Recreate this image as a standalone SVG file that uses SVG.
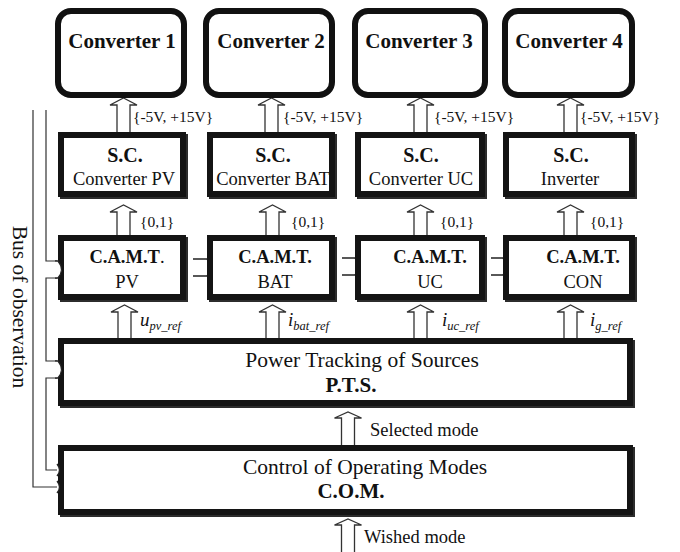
<svg xmlns="http://www.w3.org/2000/svg" width="680" height="552" viewBox="0 0 680 552">
  <style>
    text { font-family: "Liberation Serif", "Times New Roman", Times, serif; fill: #111; }
    .conv { fill: #fff; stroke: #111; stroke-width: 6; }
    .box { fill: #fff; stroke: #141414; stroke-width: 6; }
    .shade { fill: none; stroke: #2c2c2c; stroke-width: 6; }
    .arr { fill: #fff; stroke: #333; stroke-width: 1.3; stroke-linejoin: miter; }
    .wire { fill: none; stroke: #333; stroke-width: 1.2; }
    .plug { fill: #fff; stroke: #222; stroke-width: 1.3; }
    .patch { fill: #fff; stroke: none; }
    .t-conv { font-size: 21px; font-weight: bold; text-anchor: middle; }
    .t-b { font-size: 20px; font-weight: bold; text-anchor: middle; }
    .t-r { font-size: 18.5px; text-anchor: middle; }
    .t-big { font-size: 21.5px; text-anchor: middle; }
    .t-bigb { font-size: 21px; font-weight: bold; text-anchor: middle; }
    .lbl { font-size: 15.5px; }
    .lbl2 { font-size: 18.5px; }
    .sig { font-size: 19px; font-style: italic; }
    .sub { font-size: 12.5px; font-style: italic; }
  </style>

  <!-- connectors: hollow signal arrows, observation bus, inter-block links -->
  <g id="connectors">
    <!-- S.C. to converters -->
    <path class="arr" d="M117 134 V105 H110 L123.5 98 L137 105 H130 V134"/>
    <path class="arr" d="M265 134 V105 H258 L271.5 98 L285 105 H278 V134"/>
    <path class="arr" d="M414 134 V105 H407 L420.5 98 L434 105 H427 V134"/>
    <path class="arr" d="M564 134 V105 H557 L570.5 98 L584 105 H577 V134"/>
    <!-- C.A.M.T. to S.C. -->
    <path class="arr" d="M117 237 V212 H110 L123.5 205 L137 212 H130 V237"/>
    <path class="arr" d="M266 237 V212 H259 L272.5 205 L286 212 H279 V237"/>
    <path class="arr" d="M414 237 V212 H407 L420.5 205 L434 212 H427 V237"/>
    <path class="arr" d="M564 237 V212 H557 L570.5 205 L584 212 H577 V237"/>
    <!-- P.T.S. to C.A.M.T. -->
    <path class="arr" d="M118 340 V312 H111 L124.5 305 L138 312 H131 V340"/>
    <path class="arr" d="M266 340 V312 H259 L272.5 305 L286 312 H279 V340"/>
    <path class="arr" d="M414 340 V312 H407 L420.5 305 L434 312 H427 V340"/>
    <path class="arr" d="M564 340 V312 H557 L570.5 305 L584 312 H577 V340"/>
    <!-- C.O.M. to P.T.S. and input -->
    <path class="arr" d="M341.5 447 V418 H334.5 L348 412 L361.5 418 H354.5 V447"/>
    <path class="arr" d="M341.5 553 V525 H334.5 L348 519 L361.5 525 H354.5 V553"/>

    <!-- observation bus -->
    <path class="wire" d="M57 487 H33 V110"/>
    <path class="wire" d="M57 261 H46 V110"/>
    <path class="wire" d="M57 278 H46 V361 H57"/>
    <path class="wire" d="M57 378 H46 V470 H57"/>

    <!-- links between C.A.M.T. blocks -->
    <rect class="patch" x="185" y="259" width="22" height="17"/>
    <path class="plug" d="M193 259 H207 Q214 267.5 207 276 H193"/>
    <rect class="patch" x="334" y="258" width="21" height="17"/>
    <path class="plug" d="M342 258 H355 Q362 266.5 355 275 H342"/>
    <rect class="patch" x="484" y="258" width="19" height="17"/>
    <path class="plug" d="M491 258 H503 Q510 266.5 503 275 H491"/>

    <!-- labels -->
    <text class="lbl" x="133" y="122">{-5V, +15V}</text>
    <text class="lbl" x="283" y="122">{-5V, +15V}</text>
    <text class="lbl" x="434" y="122">{-5V, +15V}</text>
    <text class="lbl" x="580" y="122">{-5V, +15V}</text>
    <text class="lbl" x="140" y="227">{0,1}</text>
    <text class="lbl" x="291" y="227">{0,1}</text>
    <text class="lbl" x="440" y="227">{0,1}</text>
    <text class="lbl" x="590" y="227">{0,1}</text>
    <text x="140" y="326"><tspan class="sig">u</tspan><tspan class="sub" dy="4">pv_ref</tspan></text>
    <text x="288" y="326"><tspan class="sig">i</tspan><tspan class="sub" dy="4">bat_ref</tspan></text>
    <text x="442" y="326"><tspan class="sig">i</tspan><tspan class="sub" dy="4">uc_ref</tspan></text>
    <text x="590" y="326"><tspan class="sig">i</tspan><tspan class="sub" dy="4">g_ref</tspan></text>
    <text class="lbl2" x="370" y="436">Selected mode</text>
    <text class="lbl2" x="364" y="543">Wished mode</text>
  </g>

  <g id="bus-label">
    <text class="t-big" transform="translate(13,307) rotate(90)">Bus of observation</text>
  </g>

  <!-- power converters -->
  <g id="converter1">
    <rect class="conv" x="58" y="11" width="126" height="84" rx="13"/>
    <text class="t-conv" x="122" y="48">Converter 1</text>
  </g>
  <g id="converter2">
    <rect class="conv" x="206" y="11" width="126" height="84" rx="13"/>
    <text class="t-conv" x="271" y="48">Converter 2</text>
  </g>
  <g id="converter3">
    <rect class="conv" x="355" y="11" width="130" height="84" rx="13"/>
    <text class="t-conv" x="419" y="48">Converter 3</text>
  </g>
  <g id="converter4">
    <rect class="conv" x="505" y="11" width="127" height="84" rx="13"/>
    <text class="t-conv" x="569" y="48">Converter 4</text>
  </g>

  <!-- switching controls -->
  <g id="sc-pv">
    <rect class="shade" x="63" y="137" width="122" height="59"/>
    <rect class="box" x="61" y="135" width="122" height="59"/>
    <text class="t-b" x="125" y="162">S.C.</text>
    <text class="t-r" x="124" y="185">Converter PV</text>
  </g>
  <g id="sc-bat">
    <rect class="shade" x="212" y="137" width="122" height="59"/>
    <rect class="box" x="210" y="135" width="122" height="59"/>
    <text class="t-b" x="273" y="162">S.C.</text>
    <text class="t-r" x="273" y="185">Converter BAT</text>
  </g>
  <g id="sc-uc">
    <rect class="shade" x="360" y="137" width="124" height="59"/>
    <rect class="box" x="358" y="135" width="124" height="59"/>
    <text class="t-b" x="421" y="162">S.C.</text>
    <text class="t-r" x="421" y="185">Converter UC</text>
  </g>
  <g id="sc-inv">
    <rect class="shade" x="508" y="137" width="126" height="59"/>
    <rect class="box" x="506" y="135" width="126" height="59"/>
    <text class="t-b" x="571" y="162">S.C.</text>
    <text class="t-r" x="570" y="185">Inverter</text>
  </g>

  <!-- C.A.M.T. blocks -->
  <g id="camt-pv">
    <rect class="shade" x="63" y="240" width="122" height="59"/>
    <rect class="box" x="61" y="238" width="122" height="59"/>
    <text class="t-r" x="127" y="263"><tspan font-weight="bold">C.A.M.T</tspan>.</text>
    <text class="t-r" x="127" y="288">PV</text>
  </g>
  <g id="camt-bat">
    <rect class="shade" x="212" y="240" width="122" height="59"/>
    <rect class="box" x="210" y="238" width="122" height="59"/>
    <text class="t-r" x="275" y="263" font-weight="bold">C.A.M.T.</text>
    <text class="t-r" x="275" y="288">BAT</text>
  </g>
  <g id="camt-uc">
    <rect class="shade" x="360" y="240" width="124" height="59"/>
    <rect class="box" x="358" y="238" width="124" height="59"/>
    <text class="t-r" x="430" y="263" font-weight="bold">C.A.M.T.</text>
    <text class="t-r" x="430" y="288">UC</text>
  </g>
  <g id="camt-con">
    <rect class="shade" x="508" y="240" width="126" height="59"/>
    <rect class="box" x="506" y="238" width="126" height="59"/>
    <text class="t-r" x="583" y="263" font-weight="bold">C.A.M.T.</text>
    <text class="t-r" x="583" y="288">CON</text>
  </g>

  <!-- power tracking -->
  <g id="pts">
    <rect class="shade" x="63" y="343" width="569" height="62"/>
    <rect class="box" x="61" y="341" width="569" height="62"/>
    <text class="t-big" x="362" y="367">Power Tracking of Sources</text>
    <text class="t-bigb" x="351" y="392">P.T.S.</text>
  </g>

  <!-- operating modes -->
  <g id="com">
    <rect class="shade" x="63" y="450" width="569" height="64"/>
    <rect class="box" x="61" y="448" width="569" height="64"/>
    <text class="t-big" x="365" y="474">Control of Operating Modes</text>
    <text class="t-bigb" x="351" y="498">C.O.M.</text>
  </g>

  <!-- bus entry notches on block edges -->
  <g id="bus-notches">
    <path class="plug" d="M55 261 H58 Q65 269.5 58 278 H55"/>
    <path class="plug" d="M55 361 H58 Q65 369.5 58 378 H55"/>
    <path class="plug" d="M57 464 Q62 470 57 476"/>
    <path class="plug" d="M57 481 Q62 487 57 493"/>
  </g>
</svg>
